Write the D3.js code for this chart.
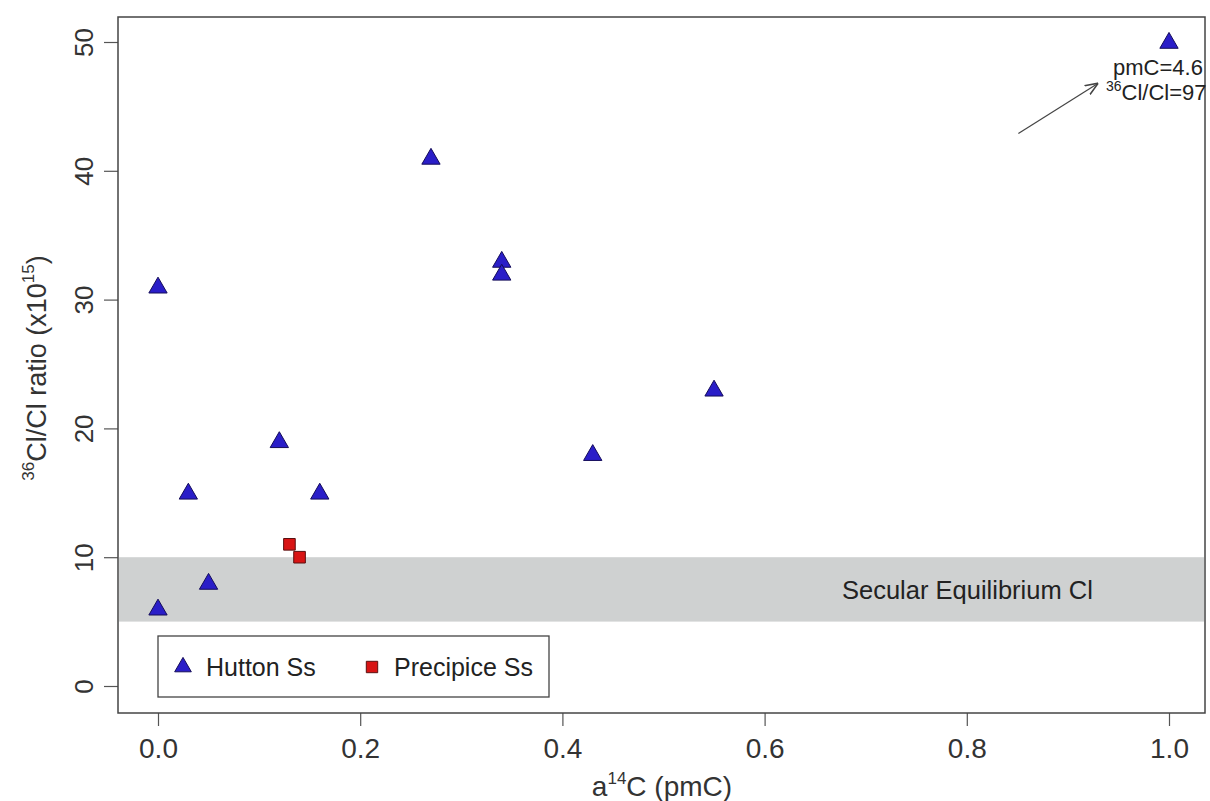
<!DOCTYPE html>
<html>
<head>
<meta charset="utf-8">
<script src="https://cdn.jsdelivr.net/npm/d3@7"></script>
<style>
  body { margin: 0; background: #fff; }
  svg { font-family: "Liberation Sans", Arial, sans-serif; }
</style>
</head>
<body>
<script>
'use strict';

// Hutton Ss samples
let huttonX = [0.0, 0.27, 0.34, 0.34, 0.55, 0.43, 0.12, 0.03, 0.16, 0.05, 0.0, 1.0];
let huttonY = [31, 41, 33, 32, 23, 18, 19, 15, 15, 8, 6, 50];

// Precipice Ss samples
let precipX = [0.13, 0.14];
let precipY = [11, 10];

// secular equilibrium band
let bandLow = 5, bandHigh = 10;

let xTicks = [0.0, 0.2, 0.4, 0.6, 0.8, 1.0];
let yTicks = [0, 10, 20, 30, 40, 50];

let width = 1210, height = 801;
let box = { left: 118, top: 17, right: 1205, bottom: 713 };
let font = '"Liberation Sans", Arial, sans-serif';

let x = d3.scaleLinear().domain([0, 1]).range([158, 1169]);
let y = d3.scaleLinear().domain([0, 50]).range([686, 42]);

let svg = d3.select('body').append('svg')
  .attr('width', width)
  .attr('height', height);

// band
svg.append('rect')
  .attr('x', box.left + 1)
  .attr('y', y(bandHigh))
  .attr('width', box.right - box.left - 2)
  .attr('height', y(bandLow) - y(bandHigh))
  .attr('fill', '#cfd1d1');

svg.append('text')
  .attr('x', 842)
  .attr('y', y((bandLow + bandHigh) / 2))
  .attr('dy', '0.36em')
  .attr('font-size', 25.5)
  .attr('fill', '#222')
  .text('Secular Equilibrium Cl');

// axes
let xAxis = svg.append('g')
  .attr('transform', `translate(0,${box.bottom})`)
  .call(d3.axisBottom(x).tickValues(xTicks).tickFormat(d3.format('.1f')).tickSize(13));
let yAxis = svg.append('g')
  .attr('transform', `translate(${box.left},0)`)
  .call(d3.axisLeft(y).tickValues(yTicks).tickFormat(d3.format('d')).tickSize(14));

[xAxis, yAxis].forEach(a => {
  a.select('.domain').remove();
  a.selectAll('line').attr('stroke', '#555').attr('stroke-width', 1.2);
  a.selectAll('text').attr('fill', '#333').attr('font-family', font);
});
xAxis.selectAll('.tick text')
  .attr('font-size', 28)
  .attr('dy', 0)
  .attr('y', 45);
yAxis.selectAll('.tick text')
  .attr('font-size', 26)
  .attr('text-anchor', 'middle')
  .attr('dy', 0)
  .attr('x', 0).attr('y', 0)
  .attr('transform', 'translate(-25,0) rotate(-90)');

// frame
svg.append('rect')
  .attr('x', box.left).attr('y', box.top)
  .attr('width', box.right - box.left).attr('height', box.bottom - box.top)
  .attr('fill', 'none').attr('stroke', '#444').attr('stroke-width', 1.5);

// axis titles
let xt = svg.append('text')
  .attr('x', 662).attr('y', 796)
  .attr('text-anchor', 'middle')
  .attr('font-size', 28).attr('fill', '#333');
xt.append('tspan').text('a');
xt.append('tspan').attr('font-size', 17).attr('dy', -12).text('14');
xt.append('tspan').attr('dy', 12).text('C (pmC)');

let yt = svg.append('text')
  .attr('transform', 'translate(46,368) rotate(-90)')
  .attr('text-anchor', 'middle')
  .attr('font-size', 27).attr('fill', '#333');
yt.append('tspan').attr('font-size', 17).attr('dy', -12).text('36');
yt.append('tspan').attr('dy', 12).text('Cl/Cl ratio (x10');
yt.append('tspan').attr('font-size', 17).attr('dy', -12).text('15');
yt.append('tspan').attr('dy', 12).text(')');

// markers
let tri = d3.symbol().type(d3.symbolTriangle).size(145);
let sq = d3.symbol().type(d3.symbolSquare).size(135);

svg.selectAll('path.hutton')
  .data(d3.range(huttonX.length))
  .join('path')
  .attr('class', 'hutton')
  .attr('d', tri)
  .attr('transform', i => `translate(${x(huttonX[i])},${y(huttonY[i]) + 1})`)
  .attr('fill', '#2a1ec8')
  .attr('stroke', '#140c5a')
  .attr('stroke-width', 1);

svg.selectAll('path.precip')
  .data(d3.range(precipX.length))
  .join('path')
  .attr('class', 'precip')
  .attr('d', sq)
  .attr('transform', i => `translate(${x(precipX[i])},${y(precipY[i])})`)
  .attr('fill', '#d81414')
  .attr('stroke', '#5a1010')
  .attr('stroke-width', 1);

// legend
let lg = svg.append('g');
lg.append('rect')
  .attr('x', 158).attr('y', 636).attr('width', 391).attr('height', 61)
  .attr('fill', '#fff').attr('stroke', '#444').attr('stroke-width', 1.3);
lg.append('path').attr('d', d3.symbol().type(d3.symbolTriangle).size(120))
  .attr('transform', 'translate(183,667)')
  .attr('fill', '#2a1ec8').attr('stroke', '#140c5a');
lg.append('text').attr('x', 206).attr('y', 676).attr('font-size', 25).attr('fill', '#222').text('Hutton Ss');
lg.append('path').attr('d', d3.symbol().type(d3.symbolSquare).size(130))
  .attr('transform', 'translate(372,667)')
  .attr('fill', '#d81414').attr('stroke', '#5a1010');
lg.append('text').attr('x', 394).attr('y', 676).attr('font-size', 25).attr('fill', '#222').text('Precipice Ss');

// outlier annotation
svg.append('defs').append('marker')
  .attr('id', 'arr').attr('viewBox', '0 0 10 10')
  .attr('refX', 10).attr('refY', 5)
  .attr('markerWidth', 13).attr('markerHeight', 13)
  .attr('markerUnits', 'userSpaceOnUse')
  .attr('orient', 'auto')
  .append('path').attr('d', 'M0,1 L10,5 L0,9').attr('fill', 'none').attr('stroke', '#444').attr('stroke-width', 1.2);

svg.append('line')
  .attr('x1', x(0.851)).attr('y1', y(42.9))
  .attr('x2', x(0.93)).attr('y2', y(46.8))
  .attr('stroke', '#444').attr('stroke-width', 1.2)
  .attr('marker-end', 'url(#arr)');

svg.append('text')
  .attr('x', 1113).attr('y', 75)
  .attr('font-size', 22).attr('fill', '#222')
  .text('pmC=4.6');
let ann = svg.append('text')
  .attr('x', 1106).attr('y', 100)
  .attr('font-size', 22).attr('fill', '#222');
ann.append('tspan').attr('font-size', 14).attr('dy', -9).text('36');
ann.append('tspan').attr('dy', 9).text('Cl/Cl=97');
</script>
</body>
</html>
